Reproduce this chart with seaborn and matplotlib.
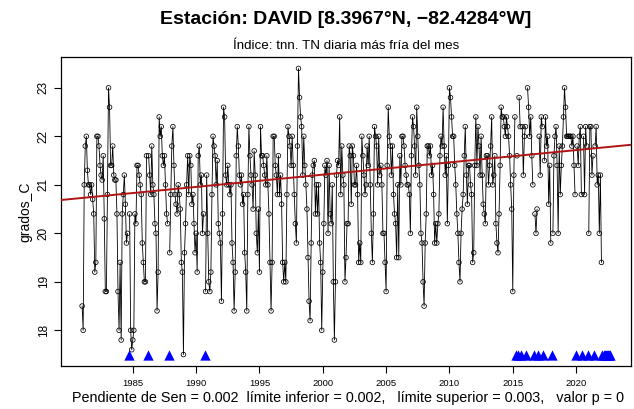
import numpy as np
import pandas as pd
import matplotlib
matplotlib.use("Agg")
import matplotlib.pyplot as plt
import seaborn as sns

nan = float("nan")

first_year = 1981
# Monthly TNn values (degC), Jan 1981 .. Sep 2022, NaN = missing month
tnn_1980s = [
    18.5, 18.0, 21.0, 21.8, 22.0, 21.3, 21.0, 21.0, 20.8, 21.0, 20.7, 20.4,  # 1981
    19.2, 19.4, 22.0, 22.0, 21.8, 21.4, 21.2, 21.1, 21.6, 20.3, 18.8, 18.8,  # 1982
    20.8, 23.0, 22.6, 21.4, 21.4, 21.8, 21.2, 21.1, 21.1, 20.4, 18.8, 18.0,  # 1983
    19.4, 17.8, 20.4, 20.8, 21.2, 20.6, 19.8, 20.0, nan, 20.4, 18.0, 17.6,   # 1984
    17.8, 18.0, 20.4, 20.2, 21.4, 21.4, 21.2, 21.0, 20.8, 19.8, 19.4, 19.0,  # 1985
    19.0, 21.6, nan, 21.6, 21.2, 20.8, 21.8, 21.0, 20.8, 20.2, 20.0, 18.4,   # 1986
    19.2, 22.4, 22.0, 22.2, 21.6, 21.4, 21.6, 21.0, 20.4, 20.2, nan, 19.6,   # 1987
    20.8, 21.8, 22.2, 21.4, 20.8, 20.6, 20.4, 21.0, 20.8, 20.5, 19.4, 19.2,  # 1988
    17.5, 19.6, 20.2, 21.0, 21.6, 20.8, 21.6, 21.4, 20.6, 20.8, 20.2, 19.6,  # 1989
]
tnn_1990s = [
    20.0, 19.2, 21.6, 21.8, 21.0, 21.2, 20.0, 20.4, nan, 18.8, 21.2, 20.0,   # 1990
    19.0, 18.8, 19.2, 20.8, 22.0, 21.8, 21.6, 21.0, 21.5, 20.2, 20.0, 19.8,  # 1991
    18.6, 20.4, 22.6, 22.4, 21.2, 21.0, 21.4, 21.0, 20.8, 21.0, 19.8, 19.4,  # 1992
    18.4, 19.2, 21.6, 22.2, 21.8, 21.2, 21.0, 21.2, 20.6, 20.8, 19.6, 19.2,  # 1993
    18.4, 20.8, 22.2, 21.6, 21.2, 21.0, 20.5, 21.7, 21.2, 20.0, 19.6, 20.5,  # 1994
    19.2, 22.2, 21.6, 21.6, 21.4, 21.2, 21.0, 21.6, 21.0, 20.4, 19.4, 18.4,  # 1995
    19.4, 22.0, 22.0, 21.4, 21.2, 20.8, 21.6, 20.8, 21.2, 20.6, 19.4, 19.0,  # 1996
    19.4, 19.0, 20.8, 22.2, 22.0, 21.8, 21.4, 22.0, 21.4, 20.8, 20.2, 19.8,  # 1997
    21.8, 23.4, 22.8, 22.4, 22.2, 21.2, 22.0, 21.4, 21.0, 20.5, 19.5, 18.6,  # 1998
    18.2, 19.8, 21.2, 21.4, 21.5, 20.4, 21.0, 20.4, 21.0, 19.8, 19.4, 18.0,  # 1999
]
tnn_2000s = [
    19.2, 20.2, 21.4, 21.2, 21.5, 20.0, 21.4, 20.4, 20.2, 21.0, 19.0, 17.8,  # 2000
    19.0, 21.2, 21.5, 21.4, 22.4, 20.8, 21.8, 21.2, 21.0, 19.0, 19.5, 20.2,  # 2001
    20.2, 21.8, 21.6, 20.6, 21.8, 21.6, 21.0, 21.0, 21.4, 20.8, 19.4, 19.8,  # 2002
    19.4, 22.0, 21.6, 21.2, 20.8, 21.0, 21.8, 21.4, 22.0, 21.0, 20.0, 19.4,  # 2003
    20.4, 22.2, 22.0, 21.8, 21.0, 22.0, 21.2, 21.4, 21.0, 20.0, 20.0, 19.4,  # 2004
    18.8, 21.4, 22.6, 22.0, 21.8, 21.2, 21.8, 20.8, 20.4, 20.2, 19.5, 21.0,  # 2005
    19.5, 21.6, 21.0, 22.0, 22.0, 21.8, 21.4, 21.2, 21.0, 21.0, 20.8, 20.0,  # 2006
    21.6, 22.4, 22.2, 21.8, 21.2, 22.6, 22.0, 21.4, 21.0, 20.0, 19.8, 19.0,  # 2007
    18.5, 19.8, 20.4, 21.8, 21.8, 21.6, 21.8, 21.2, 21.4, 20.8, 19.8, 20.2,  # 2008
    19.8, 20.2, 20.4, 21.6, 22.0, 21.8, 22.6, 21.8, 21.2, 21.6, 20.2, 21.4,  # 2009
]
tnn_2010s = [
    23.0, 22.8, 22.4, 22.0, 22.0, 21.4, 21.0, 20.4, 20.0, 19.4, 19.0, 20.0,  # 2010
    20.5, 20.8, 21.6, 22.2, 21.2, 20.6, 21.4, 21.4, 21.0, 20.8, 19.4, 19.6,  # 2011
    21.4, 22.4, 21.4, 22.2, 21.8, 21.2, 22.0, 21.2, 20.6, 20.4, 20.2, 21.6,  # 2012
    21.6, 21.0, 21.4, 21.8, 22.4, 21.0, 21.2, 21.6, 20.2, 19.8, 19.6, 20.4,  # 2013
    21.4, 22.6, 22.4, 22.4, 22.2, 22.0, 22.4, 22.2, 22.0, 21.6, 21.0, 20.5,  # 2014
    18.8, 21.2, 22.4, nan, 21.6, nan, 22.8, 22.2, nan, 22.2, 21.2, 22.0,     # 2015
    22.2, nan, 23.0, 22.6, 22.0, 22.4, 21.6, 21.0, nan, 20.4, 20.0, 20.5,    # 2016
    nan, 22.0, 21.2, 22.4, 22.2, nan, 21.5, 22.4, 21.8, 22.0, 20.6, 21.4,    # 2017
    19.8, nan, 20.0, 21.6, 22.0, 22.2, 21.4, 20.0, 21.8, 20.8, 21.4, 21.8,   # 2018
    22.4, 23.0, 22.6, 22.0, 22.0, 22.0, 22.0, 22.0, 21.8, 22.0, 21.4, 20.8,  # 2019
]
tnn_2020s = [
    nan, 21.8, 21.4, 22.0, 22.2, 20.8, nan, 22.0, 20.8, 22.2, 21.8, nan,     # 2020
    20.0, 22.2, 22.2, 21.2, 21.6, nan, 21.8, 22.2, 21.0, 21.2, 20.0, 21.2,   # 2021
    19.4, nan, nan, nan, nan, nan, nan, nan, nan,                            # 2022
]

# Sen trend line
trend_year_ref = 2000.0
trend_value_ref = 21.21
trend_slope_per_year = 0.0253

title = "Estación: DAVID [8.3967°N, −82.4284°W]"
subtitle = "Índice: tnn. TN diaria más fría del mes"
footer = ("Pendiente de Sen = 0.002  límite inferior = 0.002,   "
          "límite superior = 0.003,   valor p = 0")
ylabel = "grados_C"
year_ticks = [1985, 1990, 1995, 2000, 2005, 2010, 2015, 2020]
value_ticks = [18, 19, 20, 21, 22, 23]

values = np.array(tnn_1980s + tnn_1990s + tnn_2000s + tnn_2010s + tnn_2020s, dtype=float)
idx = np.arange(len(values))
time = first_year + idx / 12.0
df = pd.DataFrame({"time": time, "tnn": values})
isna = df["tnn"].isna()
df["seg"] = isna.cumsum()
valid = df[~isna]
missing = df[isna].copy()
vmin, vmax = valid["tnn"].min(), valid["tnn"].max()
missing["tnn"] = vmin

sns.set_theme(style="white")
plt.rcParams["font.family"] = ["Liberation Sans", "DejaVu Sans"]
plt.rcParams["text.color"] = "black"
plt.rcParams["axes.labelcolor"] = "black"
plt.rcParams["xtick.color"] = "black"
plt.rcParams["ytick.color"] = "black"

fig = plt.figure(figsize=(6.34, 4.09), dpi=100)
ax = fig.add_axes([61 / 634, 1 - 366 / 409, (631 - 61) / 634, (366 - 57) / 409])

sns.lineplot(data=valid, x="time", y="tnn", units="seg", estimator=None,
             color="black", linewidth=0.6, ax=ax, legend=False)
sns.scatterplot(data=valid, x="time", y="tnn", marker="o", s=11,
                facecolors="none", edgecolor="black", linewidth=0.55, ax=ax,
                legend=False, zorder=3)
sns.scatterplot(data=missing, x="time", y="tnn", marker="^", s=55,
                color="#0000FF", edgecolor="#0000FF", linewidth=0, ax=ax,
                legend=False, zorder=4)

tspan = time[-1] - time[0]
ax.set_xlim(time[0] - 0.04 * tspan, time[-1] + 0.04 * tspan)
vspan = vmax - vmin
ax.set_ylim(vmin - 0.04 * vspan, vmax + 0.04 * vspan)

ax.axline((trend_year_ref, trend_value_ref), slope=trend_slope_per_year,
          color="#B01515", linewidth=1.4, zorder=5)

ax.set_xticks(year_ticks)
ax.set_xticklabels([str(y) for y in year_ticks], fontsize=6.8)
ax.set_yticks(value_ticks)
ax.set_yticklabels([str(v) for v in value_ticks], fontsize=8.5, rotation=90, va="center")
ax.tick_params(axis="both", direction="out", length=5, width=0.8, color="black",
               labelcolor="black", bottom=True, left=True)
ax.tick_params(axis="x", pad=4)
ax.tick_params(axis="y", pad=3)
for sp in ax.spines.values():
    sp.set_visible(True)
    sp.set_color("black")
    sp.set_linewidth(0.9)
ax.set_xlabel("")
ax.set_ylabel(ylabel, fontsize=10, labelpad=4, color="black")
ax.grid(False)

cx = 346 / 634
fig.text(cx, 1 - 19 / 409, title, ha="center", va="center",
         fontsize=14, fontweight="bold", color="black")
fig.text(cx, 1 - 46 / 409, subtitle, ha="center", va="center", fontsize=9.6,
         color="black")
fig.text(348 / 634, 1 - 398 / 409, footer, ha="center", va="center", fontsize=10.4,
         color="black")

fig.savefig("out.png", dpi=100, facecolor="white")
